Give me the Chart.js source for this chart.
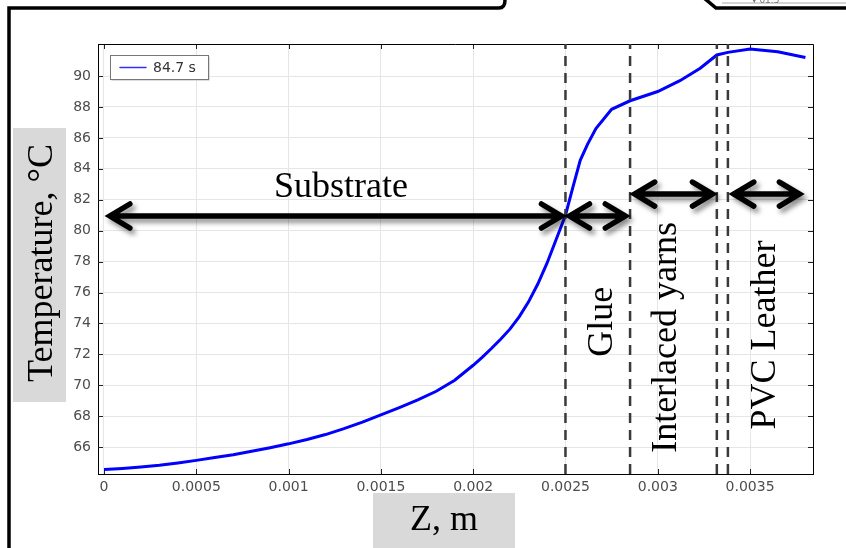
<!DOCTYPE html>
<html><head><meta charset="utf-8">
<script src="https://cdn.jsdelivr.net/npm/chart.js@4.4.1/dist/chart.umd.min.js"></script>
<style>html,body{margin:0;padding:0;background:#fff;overflow:hidden}canvas{display:block}</style>
</head><body>
<canvas id="c" width="846" height="548"></canvas>
<script>
// ---- data ----
const zValues    = [0, 0.0001, 0.0002, 0.0003, 0.0004, 0.0005, 0.0006, 0.0007, 0.0008, 0.0009, 0.001, 0.0011, 0.0012, 0.0013, 0.0014, 0.0015, 0.0016, 0.0017, 0.0018, 0.0019, 0.002, 0.00205, 0.0021, 0.00215, 0.0022, 0.00225, 0.0023, 0.00235, 0.0024, 0.00245, 0.0025, 0.00254, 0.00258, 0.00262, 0.002665, 0.00275, 0.00285, 0.003, 0.00312, 0.00323, 0.00332, 0.00338, 0.0035, 0.00365, 0.0038];
const tempValues = [64.56, 64.63, 64.72, 64.83, 64.98, 65.15, 65.33, 65.52, 65.74, 65.97, 66.22, 66.5, 66.82, 67.2, 67.62, 68.09, 68.56, 69.06, 69.62, 70.33, 71.3, 71.83, 72.4, 73.0, 73.65, 74.45, 75.4, 76.55, 77.9, 79.45, 81.0, 82.8, 84.55, 85.6, 86.6, 87.85, 88.4, 89.0, 89.7, 90.5, 91.36, 91.53, 91.75, 91.57, 91.2];
const layerBoundaries = [0.0025, 0.00285, 0.00332, 0.00338];
const xTickValues = [0, 0.0005, 0.001, 0.0015, 0.002, 0.0025, 0.003, 0.0035];
const xTickLabels = ['0', '0.0005', '0.001', '0.0015', '0.002', '0.0025', '0.003', '0.0035'];
const yTickValues = [66, 68, 70, 72, 74, 76, 78, 80, 82, 84, 86, 88, 90];
const seriesLabel = '84.7 s';
const layerNames = ['Substrate', 'Glue', 'Interlaced yarns', 'PVC Leather'];
const xTitle = 'Z, m';
const yTitle = 'Temperature, \u00B0C';
const xRange = [-0.0000325, 0.003841];
const yRange = [64.27, 92.07];

// annotation anchors in data units
const layerArrows = [
  {x1: 0.00001, x2: 0.0025,  y: 80.95},
  {x1: 0.0025,  x2: 0.002846, y: 80.95},
  {x1: 0.002853, x2: 0.003318, y: 82.37},
  {x1: 0.00339, x2: 0.003789, y: 82.37}
];
const layerTextPos = [
  {x: 0.001284, y: 82.2, rot: false},
  {x: 0.002751, y: 74.12, rot: true},
  {x: 0.003099, y: 73.10, rot: true},
  {x: 0.003635, y: 73.26, rot: true}
];

const curve = zValues.map((z, i) => ({x: z, y: tempValues[i]}));
const boundarySets = layerBoundaries.map(b => ({
  data: [{x: b, y: yRange[0]}, {x: b, y: yRange[1]}],
  borderColor: '#3a3a3a', borderWidth: 2.5, borderDash: [10, 7],
  pointRadius: 0, fill: false, tension: 0
}));

const SERIF = '"Liberation Serif", "Times New Roman", serif';

function drawArrow(ctx, x1, x2, y) {
  const ah = 20, aw = 12, off = 4;
  ctx.beginPath();
  ctx.moveTo(x1 + off + 2, y); ctx.lineTo(x2 - off - 2, y);
  ctx.moveTo(x1 + off + ah, y - aw); ctx.lineTo(x1 + off, y); ctx.lineTo(x1 + off + ah, y + aw);
  ctx.moveTo(x2 - off - ah, y - aw); ctx.lineTo(x2 - off, y); ctx.lineTo(x2 - off - ah, y + aw);
  ctx.stroke();
}

const decoPlugin = {
  id: 'deco',
  beforeDraw(chart) {
    const ctx = chart.ctx;
    ctx.save();
    ctx.fillStyle = '#fff';
    ctx.fillRect(0, 0, chart.width, chart.height);
    // surrounding figure frame fragments
    ctx.strokeStyle = '#000'; ctx.lineWidth = 3.5; ctx.lineJoin = 'miter';
    ctx.beginPath();
    ctx.moveTo(9, 560); ctx.lineTo(9, 8); ctx.lineTo(499, 8);
    ctx.quadraticCurveTo(505, 8, 505, 0);
    ctx.stroke();
    ctx.beginPath();
    ctx.moveTo(704, -2); ctx.lineTo(716, 8); ctx.lineTo(850, 8);
    ctx.stroke();
    ctx.strokeStyle = '#aaa'; ctx.lineWidth = 1;
    ctx.beginPath(); ctx.moveTo(722, 3); ctx.lineTo(850, 3); ctx.stroke();
    ctx.fillStyle = '#777'; ctx.font = '9px "DejaVu Sans"'; ctx.textBaseline = 'alphabetic';
    ctx.fillText('\u25BE 01.5', 752, 3);
    ctx.restore();
  },
  beforeDatasetsDraw(chart) {
    const ctx = chart.ctx, a = chart.chartArea;
    const xs = chart.scales.x, ys = chart.scales.y;
    ctx.save();
    ctx.strokeStyle = '#222'; ctx.lineWidth = 1;
    ctx.beginPath();
    xTickValues.forEach(v => {
      const px = Math.round(xs.getPixelForValue(v)) + 0.5;
      ctx.moveTo(px, a.bottom); ctx.lineTo(px, a.bottom - 5);
      ctx.moveTo(px, a.top); ctx.lineTo(px, a.top + 5);
    });
    yTickValues.forEach(v => {
      const py = Math.round(ys.getPixelForValue(v)) + 0.5;
      ctx.moveTo(a.left, py); ctx.lineTo(a.left + 5, py);
      ctx.moveTo(a.right, py); ctx.lineTo(a.right - 5, py);
    });
    ctx.stroke();
    ctx.strokeStyle = '#000';
    ctx.beginPath();
    ctx.moveTo(a.left, a.top + 0.5); ctx.lineTo(a.right + 0.5, a.top + 0.5); ctx.lineTo(a.right + 0.5, a.bottom);
    ctx.stroke();
    ctx.restore();
  },
  afterDraw(chart) {
    const ctx = chart.ctx;
    const xs = chart.scales.x, ys = chart.scales.y;
    ctx.save();
    // arrows with drop shadow
    ctx.strokeStyle = '#000'; ctx.lineWidth = 5.5; ctx.lineCap = 'round'; ctx.lineJoin = 'miter';
    ctx.shadowColor = 'rgba(0,0,0,0.45)'; ctx.shadowBlur = 5; ctx.shadowOffsetX = 3; ctx.shadowOffsetY = 4;
    layerArrows.forEach(ar => {
      drawArrow(ctx, xs.getPixelForValue(ar.x1), xs.getPixelForValue(ar.x2), ys.getPixelForValue(ar.y));
    });
    ctx.shadowColor = 'transparent'; ctx.shadowBlur = 0; ctx.shadowOffsetX = 0; ctx.shadowOffsetY = 0;
    // layer labels
    ctx.fillStyle = '#000';
    ctx.font = '36px ' + SERIF;
    ctx.textAlign = 'center'; ctx.textBaseline = 'alphabetic';
    layerNames.forEach((name, i) => {
      const p = layerTextPos[i];
      const px = xs.getPixelForValue(p.x), py = ys.getPixelForValue(p.y);
      if (p.rot) {
        ctx.save(); ctx.translate(px, py); ctx.rotate(-Math.PI / 2);
        ctx.fillText(name, 0, 0); ctx.restore();
      } else {
        ctx.fillText(name, px, py);
      }
    });
    // axis title boxes
    ctx.fillStyle = '#d9d9d9';
    ctx.fillRect(13, 128, 53, 274);
    ctx.fillRect(373, 493, 142, 60);
    ctx.fillStyle = '#000';
    ctx.font = '36px ' + SERIF;
    ctx.save(); ctx.translate(52, 263); ctx.rotate(-Math.PI / 2);
    ctx.fillText(yTitle, 0, 0); ctx.restore();
    ctx.fillText(xTitle, 444, 530);
    // legend
    const lx = 110, ly = 55, lw = 98, lh = 24;
    ctx.fillStyle = '#bbb'; ctx.fillRect(lx + 1.5, ly + 1.5, lw, lh);
    ctx.fillStyle = '#fff'; ctx.fillRect(lx, ly, lw, lh);
    ctx.strokeStyle = '#777'; ctx.lineWidth = 1;
    ctx.strokeRect(lx + 0.5, ly + 0.5, lw, lh);
    const ds = chart.data.datasets[chart.data.datasets.length - 1];
    ctx.strokeStyle = '#3030ff'; ctx.lineWidth = 1.5;
    ctx.beginPath(); ctx.moveTo(120, 67.5); ctx.lineTo(146, 67.5); ctx.stroke();
    ctx.fillStyle = '#333'; ctx.font = '14px "DejaVu Sans"';
    ctx.textAlign = 'left'; ctx.textBaseline = 'middle';
    ctx.fillText(ds.label, 153, 68);
    ctx.restore();
  }
};

new Chart(document.getElementById('c'), {
  type: 'line',
  data: {
    datasets: [
      ...boundarySets,
      {label: seriesLabel, data: curve, borderColor: '#0000ff', borderWidth: 3, pointRadius: 0, fill: false, tension: 0}
    ]
  },
  options: {
    responsive: false, animation: false, devicePixelRatio: 1,
    layout: {padding: {left: 0, top: 44, right: 33, bottom: 0}},
    plugins: {legend: {display: false}, tooltip: {enabled: false}},
    scales: {
      x: {
        type: 'linear', min: xRange[0], max: xRange[1],
        afterBuildTicks: s => { s.ticks = xTickValues.map(v => ({value: v})); },
        afterFit: s => { s.height = 74; },
        ticks: {color: '#4d4d4d', font: {family: 'DejaVu Sans', size: 14}, padding: 5, maxRotation: 0, autoSkip: false,
          callback: (v, i) => xTickLabels[i]},
        grid: {color: '#e6e6e6', lineWidth: 1, drawTicks: false},
        border: {color: '#000', width: 1}
      },
      y: {
        type: 'linear', min: yRange[0], max: yRange[1],
        afterBuildTicks: s => { s.ticks = yTickValues.map(v => ({value: v})); },
        afterFit: s => { s.width = 98; },
        ticks: {color: '#4d4d4d', font: {family: 'DejaVu Sans', size: 14}, padding: 7, autoSkip: false,
          callback: v => String(v)},
        grid: {color: '#e6e6e6', lineWidth: 1, drawTicks: false},
        border: {color: '#000', width: 1}
      }
    }
  },
  plugins: [decoPlugin]
});
</script>
</body></html>
